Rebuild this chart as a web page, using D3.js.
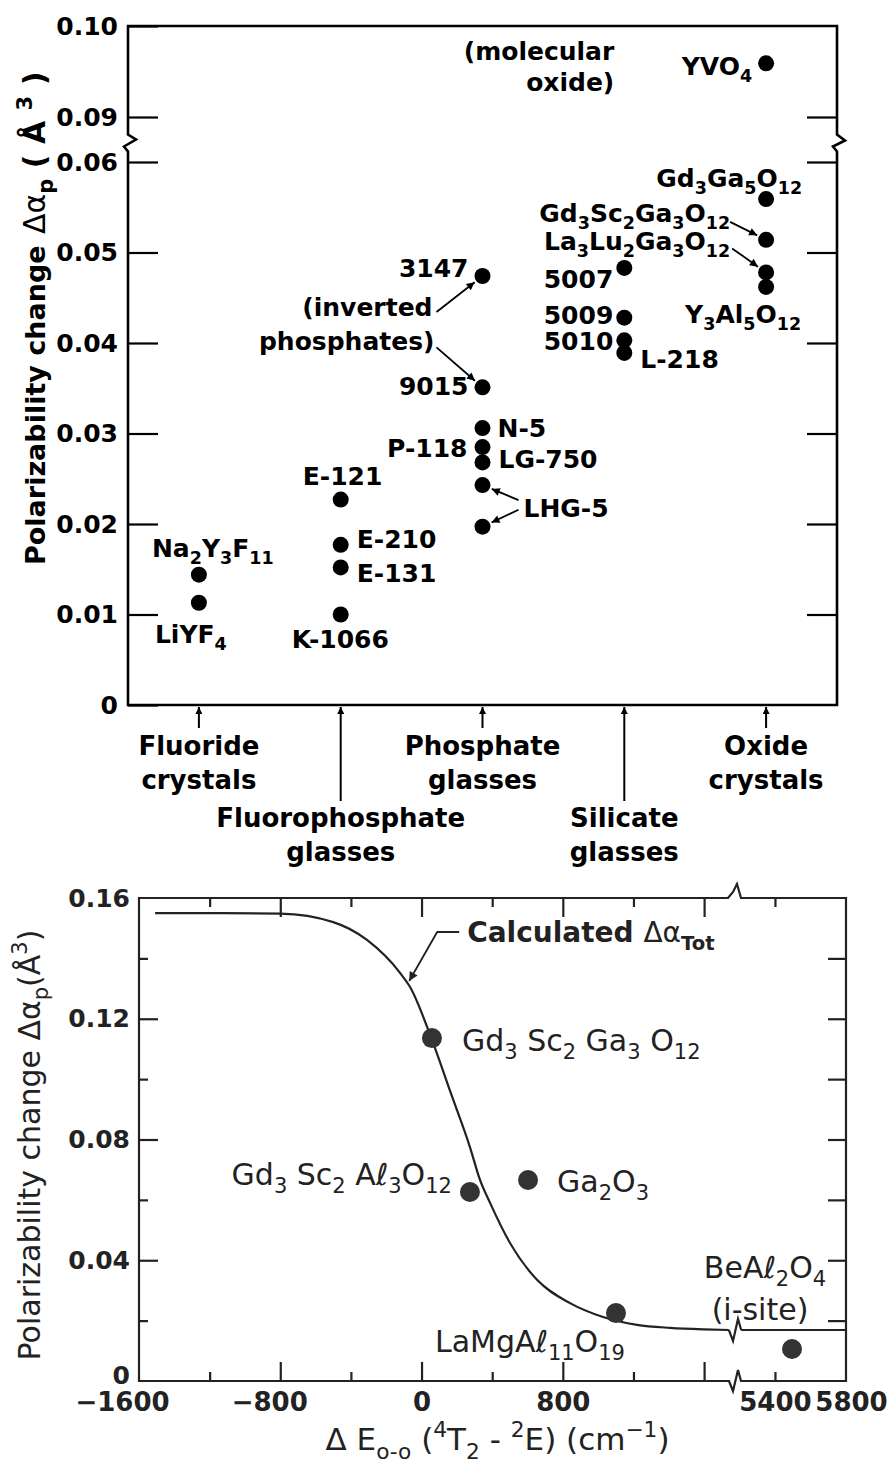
<!DOCTYPE html>
<html>
<head>
<meta charset="utf-8">
<script src="https://cdn.jsdelivr.net/npm/d3@7"></script>
<style>
  body { margin: 0; background: #fff; }
  svg { display: block; font-family: 'DejaVu Sans', sans-serif; }
</style>
</head>
<body>
<script>
// ---------------- DATA ----------------
// Top chart: categories and points
const categoryLines = [["Fluoride", "crystals"], ["Fluorophosphate", "glasses"], ["Phosphate", "glasses"], ["Silicate", "glasses"], ["Oxide", "crystals"]];
const topNames = ["Na_{2}Y_{3}F_{11}", "LiYF_{4}", "E-121", "E-210", "E-131", "K-1066", "3147", "9015", "N-5", "P-118", "LG-750", "LHG-5", "LHG-5", "5007", "5009", "5010", "L-218", "YVO_{4}", "Gd_{3}Ga_{5}O_{12}", "Gd_{3}Sc_{2}Ga_{3}O_{12}", "La_{3}Lu_{2}Ga_{3}O_{12}", "Y_{3}Al_{5}O_{12}"];
const topCategory = [0, 0, 1, 1, 1, 1, 2, 2, 2, 2, 2, 2, 2, 3, 3, 3, 3, 4, 4, 4, 4, 4];
const topValues = [0.0144, 0.0113, 0.0227, 0.0177, 0.0152, 0.0100, 0.0474, 0.0351, 0.0306, 0.0285, 0.0268, 0.0243, 0.0197, 0.0483, 0.0428, 0.0403, 0.0389, 0.0959, 0.0559, 0.0514, 0.0478, 0.0462];
const topTicksLow = [0, 0.01, 0.02, 0.03, 0.04, 0.05, 0.06];
const topTicksHigh = [0.09, 0.10];

// Bottom chart: measured points and calculated curve
const botNames = ["Gd_{3} Sc_{2} Ga_{3} O_{12}", "Gd_{3} Sc_{2} Aℓ_{3}O_{12}", "Ga_{2}O_{3}", "LaMgAℓ_{11}O_{19}", "BeAℓ_{2}O_{4}|(i-site)"];
const botX = [59, 274, 603, 1101, 5496];
const botY = [0.1136, 0.0626, 0.0666, 0.0225, 0.0106];
const curveX = [-1509, -1200, -800, -500, -309, -122, -65, 59, 165, 274, 331, 388, 501, 654, 841, 1028, 1220, 1407, 1600, 1740];
const curveY = [0.155, 0.155, 0.1548, 0.152, 0.1461, 0.1352, 0.1305, 0.1130, 0.0955, 0.0775, 0.0666, 0.0590, 0.0457, 0.0335, 0.0258, 0.0212, 0.0186, 0.0176, 0.0171, 0.0169];
const curveX2 = [5210, 5800];
const curveY2 = [0.0169, 0.0169];
const botYLabelTicks = [0, 0.04, 0.08, 0.12, 0.16];
const botYMajor = [0.04, 0.08, 0.12];
const botYMinor = [0.02, 0.06, 0.10, 0.14];
const botXLabels1 = [-1600, -800, 0, 800];
const botXLabels2 = [5400, 5800];
const botXMajor = [-800, 0, 800, 1600];
const botXMinor1 = [-1200, -400, 400, 1200];
const botXMinor2 = [5400];

// ---------------- LAYOUT (label offsets) ----------------
const topLabelLayout = [
  ["start", -47, -18], ["start", -44, 40], ["start", -38, -15], ["start", 16, 3], ["start", 16, 15],
  ["start", -49, 33], ["end", -14, 1], ["end", -14, 8], ["start", 15, 9], ["end", -15, 10],
  ["start", 16, 6], null, ["start", 41, -10], ["end", -11, 20], ["end", -11, 6],
  ["end", -11, 10], ["start", 16, 15], ["end", -14, 12], ["end", 36, -12], ["end", -36, -18],
  ["end", -36, -22], ["start", -81, 36]
];
const botLabelLayout = [["start", 30, 13], ["end", -18, -7], ["start", 29, 12], ["end", 9, 39], ["middle", -27, -71]];

// ---------------- HELPERS ----------------
function rich(textSel, str, size) {
  const parts = str.split(/(_\{[^}]*\}|\^\{[^}]*\}|~\{[^}]*\})/).filter(s => s.length);
  let shift = 0;
  parts.forEach(p => {
    let kind = "n", s = p;
    if (/^[_^~]\{/.test(p)) { kind = p[0]; s = p.slice(2, -1); }
    const target = kind === "_" ? size * 0.28 : kind === "^" ? -size * 0.42 : 0;
    const ts = textSel.append("tspan").text(s).attr("dy", target - shift);
    shift = target;
    if (kind === "_" || kind === "^") ts.attr("font-size", size * 0.7);
    if (kind === "~") ts.attr("font-weight", "normal");
  });
  return textSel;
}

const svg = d3.select("body").append("svg").attr("width", 892).attr("height", 1463)
  .style("white-space", "pre");
const defs = svg.append("defs");
function marker(id, color, w, h) {
  defs.append("marker").attr("id", id).attr("viewBox", "0 0 10 10").attr("refX", 10).attr("refY", 5)
    .attr("markerWidth", w).attr("markerHeight", h).attr("markerUnits", "userSpaceOnUse").attr("orient", "auto")
    .append("path").attr("d", "M0,0 L10,5 L0,10 z").attr("fill", color);
}
marker("ahTop", "#000", 12, 8);
marker("ahCat", "#000", 11, 7);
marker("ahBot", "#222", 13, 9);

function styleAxis(g, size, weight, color) {
  g.select(".domain").remove();
  g.selectAll("line").attr("stroke", color).attr("stroke-width", 2.2);
  g.selectAll("text").attr("font-size", size).attr("font-weight", weight).attr("fill", color)
    .attr("font-family", "'DejaVu Sans', sans-serif");
}
const fmtY = d => d === 0 ? "0" : d3.format(".2f")(d);

// ================= TOP CHART =================
const xT = d3.scaleLinear().domain([-0.5, 4.5]).range([128, 837]);
const yLow = d3.scaleLinear().domain([0, 0.06]).range([705, 162]);
const yHigh = d3.scaleLinear().domain([0.09, 0.10]).range([117, 26]);
const yT = v => v >= 0.08 ? yHigh(v) : yLow(v);
const gTop = svg.append("g").attr("fill", "#000");

const L = xT.range()[0], R = xT.range()[1], B = yLow(0), T = yHigh(0.10);
const bm = (yLow(0.06) + yHigh(0.09)) / 2;
gTop.append("path").attr("fill", "none").attr("stroke", "#000").attr("stroke-width", 2.6).attr("stroke-linejoin", "miter")
  .attr("d", `M${L},${B} L${L},${bm + 12} L${L - 4},${bm + 7} L${L + 8},${bm} L${L},${bm - 5} L${L},${T} L${R},${T} L${R},${bm - 5} L${R + 8},${bm + 1} L${R - 4},${bm + 7} L${R},${bm + 12} L${R},${B} Z`);

gTop.append("g").attr("transform", `translate(${L},0)`)
  .call(d3.axisLeft(yLow).tickValues(topTicksLow).tickSizeInner(-30).tickSizeOuter(0).tickPadding(10).tickFormat(fmtY))
  .call(g => styleAxis(g, 25, "bold", "#000"));
gTop.append("g").attr("transform", `translate(${L},0)`)
  .call(d3.axisLeft(yHigh).tickValues(topTicksHigh).tickSizeInner(-30).tickSizeOuter(0).tickPadding(10).tickFormat(fmtY))
  .call(g => styleAxis(g, 25, "bold", "#000"));
gTop.append("g").attr("transform", `translate(${R},0)`)
  .call(d3.axisRight(yLow).tickValues(topTicksLow.slice(1)).tickSizeInner(-30).tickSizeOuter(0).tickFormat(""))
  .call(g => styleAxis(g, 25, "bold", "#000"));
gTop.append("g").attr("transform", `translate(${R},0)`)
  .call(d3.axisRight(yHigh).tickValues([0.09]).tickSizeInner(-30).tickSizeOuter(0).tickFormat(""))
  .call(g => styleAxis(g, 25, "bold", "#000"));

// y label (two runs along the axis)
gTop.append("text").attr("transform", `translate(45,565) rotate(-90)`)
  .attr("text-anchor", "start").attr("font-size", 27).attr("font-weight", "bold").text("Polarizability change");
rich(gTop.append("text").attr("transform", `translate(45,234) rotate(-90)`)
  .attr("text-anchor", "start").attr("font-size", 30).attr("font-weight", "bold"),
  "~{Δα}_{p}   ( Å  ^{3}  )", 30);

// category arrows and labels
categoryLines.forEach((lines, i) => {
  const cx = xT(i);
  const longArrow = i % 2 === 1;
  gTop.append("line").attr("x1", cx).attr("x2", cx).attr("y1", longArrow ? 801 : 728).attr("y2", B + 2)
    .attr("stroke", "#000").attr("stroke-width", 2).attr("marker-end", "url(#ahCat)");
  const y0 = longArrow ? 827 : 755;
  lines.forEach((t, k) => {
    gTop.append("text").attr("x", cx).attr("y", y0 + k * 34).attr("text-anchor", "middle")
      .attr("font-size", 26).attr("font-weight", "bold").text(t);
  });
});

// points
gTop.selectAll("circle.pt").data(topValues).join("circle").attr("class", "pt")
  .attr("cx", (d, i) => xT(topCategory[i])).attr("cy", d => yT(d)).attr("r", 8).attr("fill", "#000");

// point labels
topValues.forEach((v, i) => {
  const lay = topLabelLayout[i];
  if (!lay) return;
  rich(gTop.append("text").attr("x", xT(topCategory[i]) + lay[1]).attr("y", yT(v) + lay[2])
    .attr("text-anchor", lay[0]).attr("font-size", 25).attr("font-weight", "bold"), topNames[i], 25);
});

// annotation arrows (start offsets relative to dot)
function topArrow(idx, ox, oy) {
  const cx = xT(topCategory[idx]), cy = yT(topValues[idx]);
  const len = Math.hypot(ox, oy), f = 10 / len;
  gTop.append("line").attr("x1", cx + ox).attr("y1", cy + oy)
    .attr("x2", cx + ox * f).attr("y2", cy + oy * f)
    .attr("stroke", "#000").attr("stroke-width", 1.8).attr("marker-end", "url(#ahTop)");
}
topArrow(6, -46, 36);
topArrow(7, -46, -40);
topArrow(11, 36, 15);
topArrow(12, 36, -17);
topArrow(19, -36, -18);
topArrow(20, -34, -24);

// free annotations
const inv = gTop.append("text").attr("text-anchor", "end").attr("font-size", 25).attr("font-weight", "bold");
inv.append("tspan").attr("x", xT(2) - 50).attr("y", yLow(0.0474) + 40).text("(inverted");
inv.append("tspan").attr("x", xT(2) - 48).attr("y", yLow(0.0474) + 74).text("phosphates)");
const mol = gTop.append("text").attr("text-anchor", "end").attr("font-size", 25).attr("font-weight", "bold");
mol.append("tspan").attr("x", xT(3) - 10).attr("y", yHigh(0.0959) - 3).text("(molecular");
mol.append("tspan").attr("x", xT(3) - 10).attr("y", yHigh(0.0959) + 28).text("oxide)");

// ================= BOTTOM CHART =================
const C = "#222";
const xB1 = d3.scaleLinear().domain([-1600, 1775]).range([139, 735]);
const xB2 = d3.scaleLinear().domain([5175, 5800]).range([735, 846]);
const xB = v => v > 3000 ? xB2(v) : xB1(v);
const yB = d3.scaleLinear().domain([0, 0.16]).range([1381, 898]);
const gBot = svg.append("g").attr("fill", C);
const bL = 139, bR = 846, bT = yB(0.16), bB = yB(0);
const bx = 735;

gBot.append("path").attr("fill", "none").attr("stroke", C).attr("stroke-width", 2.2)
  .attr("d", `M${bL},${bB} L${bL},${bT} L${bx - 7},${bT} L${bx - 2},${bT - 6} L${bx + 2},${bT - 14} L${bx + 6},${bT} L${bR},${bT} L${bR},${bB} L${bx + 6},${bB} L${bx + 3},${bB - 11} L${bx - 2},${bB + 10} L${bx - 6},${bB} Z`);

gBot.append("g").attr("transform", `translate(${bL},0)`)
  .call(d3.axisLeft(yB).tickValues(botYMajor).tickSizeInner(-19).tickSizeOuter(0).tickFormat(""))
  .call(g => styleAxis(g, 25, "bold", C));
gBot.append("g").attr("transform", `translate(${bL},0)`)
  .call(d3.axisLeft(yB).tickValues(botYMinor).tickSizeInner(-9).tickSizeOuter(0).tickFormat(""))
  .call(g => styleAxis(g, 25, "bold", C));
gBot.append("g").attr("transform", `translate(${bL},0)`)
  .call(d3.axisLeft(yB).tickValues(botYLabelTicks).tickSize(0).tickPadding(9).tickFormat(fmtY))
  .call(g => styleAxis(g, 25, "bold", C))
  .call(g => g.selectAll("text").attr("y", d => d === 0 ? -6 : 0));
gBot.append("g").attr("transform", `translate(${bR},0)`)
  .call(d3.axisRight(yB).tickValues(botYMajor.concat(botYMinor)).tickSizeInner(-18).tickSizeOuter(0).tickFormat(""))
  .call(g => styleAxis(g, 25, "bold", C));

[[bT, d3.axisTop], [bB, d3.axisBottom]].forEach(([yy, ax]) => {
  gBot.append("g").attr("transform", `translate(0,${yy})`)
    .call(ax(xB1).tickValues(botXMajor).tickSizeInner(-19).tickSizeOuter(0).tickFormat(""))
    .call(g => styleAxis(g, 26, "bold", C));
  gBot.append("g").attr("transform", `translate(0,${yy})`)
    .call(ax(xB1).tickValues(botXMinor1).tickSizeInner(-9).tickSizeOuter(0).tickFormat(""))
    .call(g => styleAxis(g, 26, "bold", C));
  gBot.append("g").attr("transform", `translate(0,${yy})`)
    .call(ax(xB2).tickValues(botXMinor2).tickSizeInner(-9).tickSizeOuter(0).tickFormat(""))
    .call(g => styleAxis(g, 26, "bold", C));
});
gBot.append("g").attr("transform", `translate(0,${bB})`)
  .call(d3.axisBottom(xB1).tickValues(botXLabels1).tickSize(0).tickPadding(12).tickFormat(d3.format("d")))
  .call(g => styleAxis(g, 26, "bold", C))
  .call(g => g.selectAll("text").attr("dx", d => d === -1600 ? -17 : d < 0 ? -11 : 0));
gBot.append("g").attr("transform", `translate(0,${bB})`)
  .call(d3.axisBottom(xB2).tickValues(botXLabels2).tickSize(0).tickPadding(12).tickFormat(d3.format("d")))
  .call(g => styleAxis(g, 26, "bold", C))
  .call(g => g.selectAll("text").attr("dx", d => d === 5800 ? 5 : 0));

// curve
const line1 = d3.line().x(d => xB1(d[0])).y(d => yB(d[1])).curve(d3.curveMonotoneX);
const line2 = d3.line().x(d => xB2(d[0])).y(d => yB(d[1]));
gBot.append("path").attr("fill", "none").attr("stroke", C).attr("stroke-width", 2.2)
  .attr("d", line1(curveX.map((x, i) => [x, curveY[i]])));
const yEnd = yB(curveY[curveY.length - 1]);
gBot.append("path").attr("fill", "none").attr("stroke", C).attr("stroke-width", 2.2)
  .attr("d", `M${xB1(curveX[curveX.length - 1])},${yEnd} L${bx - 2},${yEnd + 11} L${bx + 3},${yEnd - 11} L${xB2(curveX2[0])},${yB(curveY2[0])}`);
gBot.append("path").attr("fill", "none").attr("stroke", C).attr("stroke-width", 2.2)
  .attr("d", line2(curveX2.map((x, i) => [x, curveY2[i]])));

// points
gBot.selectAll("circle.bp").data(botY).join("circle").attr("class", "bp")
  .attr("cx", (d, i) => xB(botX[i])).attr("cy", d => yB(d)).attr("r", 10).attr("fill", "#333");

// point labels
botY.forEach((v, i) => {
  const lay = botLabelLayout[i];
  const lines = botNames[i].split("|");
  lines.forEach((ln, k) => {
    rich(gBot.append("text").attr("x", xB(botX[i]) + lay[1] + (k ? -5 : 0)).attr("y", yB(v) + lay[2] + k * 42)
      .attr("text-anchor", lay[0]).attr("font-size", 30), ln, 30);
  });
});

// calculated curve annotation
const tipX = xB1(-70), tipY = yB(0.1325);
gBot.append("path").attr("fill", "none").attr("stroke", C).attr("stroke-width", 1.8).attr("marker-end", "url(#ahBot)")
  .attr("d", `M${tipX + 50},${tipY - 49} L${tipX + 28},${tipY - 49} L${tipX},${tipY}`);
rich(gBot.append("text").attr("x", tipX + 58).attr("y", tipY - 39).attr("font-size", 28).attr("font-weight", "bold"),
  "Calculated ~{ Δα}_{Tot}", 28);

// axis titles
rich(gBot.append("text").attr("transform", `translate(40,1145) rotate(-90)`)
  .attr("text-anchor", "middle").attr("font-size", 30), "Polarizability change Δα_{p}(Å^{3})", 30);
rich(gBot.append("text").attr("x", (bL + bR) / 2 + 5).attr("y", 1450).attr("text-anchor", "middle").attr("font-size", 31),
  "Δ E_{o-o} (^{4}T_{2} - ^{2}E) (cm^{−1})", 31);
</script>
</body>
</html>
